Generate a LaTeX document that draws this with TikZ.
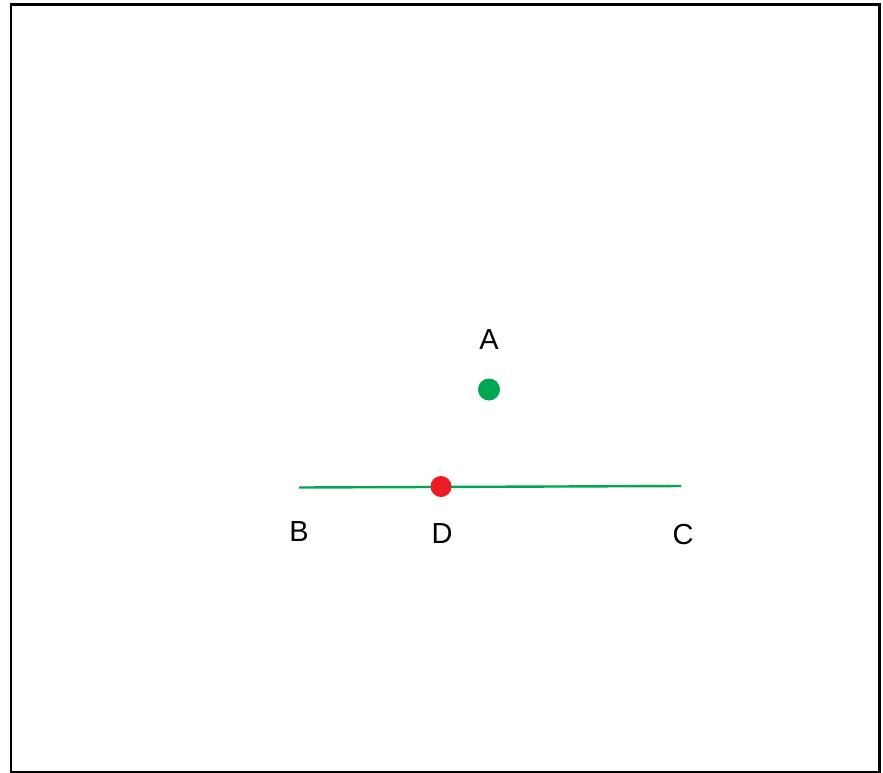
\documentclass[tikz,border=0pt]{standalone}
\usepackage{fontspec}
\setmainfont{Liberation Sans}
\definecolor{lgreen}{RGB}{0,166,81}
\definecolor{lred}{RGB}{237,28,36}
\begin{document}
\begin{tikzpicture}[x=1pt,y=-1pt,
  lbl/.style={inner sep=0pt,font=\fontsize{29}{29}\selectfont},
  pt/.style={circle,inner sep=0pt,minimum size=#1}]
\useasboundingbox (0,0) rectangle (883,772);
\draw[line width=2.6pt] (10.8,4.3) rectangle (879.7,772.5);
\coordinate (B) at (299,487.5);
\coordinate (C) at (681,486);
\draw[lgreen,line width=2.4pt] (B) -- (C);
\node[pt=22pt,fill=lgreen] (A) at (489,389.5) {};
\node[pt=21pt,fill=lred] (D) at (441,486.5) {};
\node[lbl] (la) at (489,340) {A};
\node[lbl] (lb) at (299,532) {B};
\node[lbl] (ld) at (442,533.5) {D};
\node[lbl] (lc) at (683,535) {C};
\end{tikzpicture}
\end{document}
